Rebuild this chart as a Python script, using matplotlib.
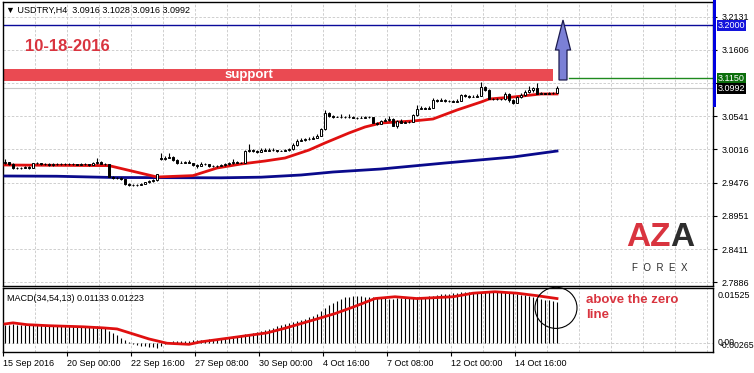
import numpy as np
import matplotlib
matplotlib.use("Agg")
import matplotlib.pyplot as plt
import matplotlib.transforms as mtransforms
from matplotlib.patches import Rectangle, Ellipse, Polygon

plt.rcParams['font.family'] = ['Liberation Sans', 'DejaVu Sans']

# ---- H4 candles, USDTRY 15 Sep - 18 Oct 2016 ----
opens = [2.9790, 2.9805, 2.9780, 2.9715, 2.9705, 2.9720, 2.9725, 2.9715, 2.9785, 2.9790,
         2.9775, 2.9780, 2.9765, 2.9770, 2.9780, 2.9775, 2.9770, 2.9775, 2.9770, 2.9765,
         2.9775, 2.9770, 2.9760, 2.9790, 2.9810, 2.9780, 2.9775, 2.9570, 2.9550, 2.9555,
         2.9530, 2.9450, 2.9440, 2.9445, 2.9440, 2.9460, 2.9480, 2.9500, 2.9520, 2.9880,
         2.9860, 2.9880, 2.9895, 2.9840, 2.9790, 2.9800, 2.9805, 2.9790, 2.9760, 2.9745,
         2.9780, 2.9770, 2.9745, 2.9740, 2.9745, 2.9755, 2.9770, 2.9790, 2.9815, 2.9800,
         2.9795, 2.9985, 2.9995, 2.9985, 2.9975, 3.0000, 2.9990, 3.0005, 2.9995, 2.9985,
         2.9990, 2.9995, 3.0010, 3.0080, 3.0150, 3.0160, 3.0170, 3.0180, 3.0200, 3.0230,
         3.0330, 3.0600, 3.0545, 3.0530, 3.0535, 3.0530, 3.0525, 3.0530, 3.0520, 3.0510,
         3.0520, 3.0535, 3.0525, 3.0440, 3.0420, 3.0470, 3.0480, 3.0500, 3.0390, 3.0470,
         3.0440, 3.0445, 3.0450, 3.0560, 3.0660, 3.0670, 3.0665, 3.0680, 3.0800, 3.0790,
         3.0795, 3.0785, 3.0790, 3.0775, 3.0790, 3.0880, 3.0860, 3.0850, 3.0855, 3.0870,
         3.1010, 3.0960, 3.0820, 3.0810, 3.0815, 3.0810, 3.0900, 3.0800, 3.0760, 3.0850,
         3.0880, 3.0930, 3.0960, 3.1000, 3.0905, 3.0910, 3.0905, 3.0910, 3.0916]
closes = [2.9805, 2.9780, 2.9715, 2.9705, 2.9720, 2.9725, 2.9715, 2.9785, 2.9790, 2.9775,
          2.9780, 2.9765, 2.9770, 2.9780, 2.9775, 2.9770, 2.9775, 2.9770, 2.9765, 2.9775,
          2.9770, 2.9760, 2.9790, 2.9810, 2.9780, 2.9775, 2.9570, 2.9550, 2.9555, 2.9530,
          2.9450, 2.9440, 2.9445, 2.9440, 2.9460, 2.9480, 2.9500, 2.9520, 2.9610, 2.9860,
          2.9880, 2.9895, 2.9840, 2.9790, 2.9800, 2.9805, 2.9790, 2.9760, 2.9745, 2.9780,
          2.9770, 2.9745, 2.9740, 2.9745, 2.9755, 2.9770, 2.9790, 2.9815, 2.9800, 2.9795,
          2.9985, 2.9995, 2.9985, 2.9975, 3.0000, 2.9990, 3.0005, 2.9995, 2.9985, 2.9990,
          2.9995, 3.0010, 3.0080, 3.0150, 3.0160, 3.0170, 3.0180, 3.0200, 3.0230, 3.0330,
          3.0600, 3.0545, 3.0530, 3.0535, 3.0530, 3.0525, 3.0530, 3.0520, 3.0510, 3.0520,
          3.0535, 3.0525, 3.0440, 3.0420, 3.0470, 3.0480, 3.0500, 3.0390, 3.0470, 3.0440,
          3.0445, 3.0450, 3.0560, 3.0660, 3.0670, 3.0665, 3.0680, 3.0800, 3.0790, 3.0795,
          3.0785, 3.0790, 3.0775, 3.0790, 3.0880, 3.0860, 3.0850, 3.0855, 3.0870, 3.1010,
          3.0960, 3.0820, 3.0810, 3.0815, 3.0810, 3.0900, 3.0800, 3.0760, 3.0850, 3.0880,
          3.0930, 3.0960, 3.1000, 3.0905, 3.0910, 3.0905, 3.0910, 3.0916, 3.0992]
highs = [2.9850, 2.9815, 2.9790, 2.9735, 2.9730, 2.9745, 2.9740, 2.9800, 2.9815, 2.9800,
         2.9795, 2.9790, 2.9785, 2.9795, 2.9790, 2.9785, 2.9790, 2.9785, 2.9780, 2.9790,
         2.9790, 2.9780, 2.9810, 2.9880, 2.9820, 2.9795, 2.9780, 2.9580, 2.9570, 2.9565,
         2.9540, 2.9465, 2.9460, 2.9455, 2.9470, 2.9490, 2.9515, 2.9535, 2.9620, 2.9950,
         2.9900, 2.9960, 2.9905, 2.9850, 2.9830, 2.9830, 2.9840, 2.9800, 2.9775, 2.9810,
         2.9800, 2.9780, 2.9755, 2.9755, 2.9770, 2.9790, 2.9810, 2.9860, 2.9825, 2.9810,
         2.9995, 3.0090, 3.0010, 3.0005, 3.0040, 3.0030, 3.0030, 3.0025, 3.0005, 3.0000,
         3.0010, 3.0040, 3.0110, 3.0170, 3.0200, 3.0190, 3.0210, 3.0230, 3.0260, 3.0350,
         3.0640, 3.0610, 3.0560, 3.0550, 3.0570, 3.0550, 3.0575, 3.0545, 3.0530, 3.0540,
         3.0550, 3.0545, 3.0535, 3.0450, 3.0480, 3.0520, 3.0540, 3.0510, 3.0480, 3.0490,
         3.0460, 3.0465, 3.0570, 3.0720, 3.0700, 3.0690, 3.0700, 3.0830, 3.0820, 3.0830,
         3.0810, 3.0805, 3.0800, 3.0815, 3.0900, 3.0905, 3.0880, 3.0880, 3.0900, 3.1095,
         3.1030, 3.0970, 3.0830, 3.0830, 3.0825, 3.0930, 3.0910, 3.0810, 3.0870, 3.0910,
         3.0960, 3.1020, 3.1010, 3.1080, 3.0925, 3.0920, 3.0925, 3.0930, 3.1028]
lows = [2.9775, 2.9760, 2.9700, 2.9690, 2.9695, 2.9710, 2.9700, 2.9710, 2.9770, 2.9765,
        2.9760, 2.9750, 2.9750, 2.9760, 2.9765, 2.9760, 2.9760, 2.9760, 2.9755, 2.9755,
        2.9760, 2.9740, 2.9755, 2.9780, 2.9770, 2.9755, 2.9560, 2.9540, 2.9535, 2.9520,
        2.9440, 2.9420, 2.9425, 2.9430, 2.9435, 2.9450, 2.9470, 2.9490, 2.9510, 2.9845,
        2.9845, 2.9870, 2.9830, 2.9780, 2.9785, 2.9790, 2.9785, 2.9750, 2.9720, 2.9740,
        2.9755, 2.9735, 2.9730, 2.9735, 2.9740, 2.9750, 2.9760, 2.9780, 2.9790, 2.9785,
        2.9790, 2.9975, 2.9970, 2.9960, 2.9965, 2.9980, 2.9985, 2.9980, 2.9975, 2.9980,
        2.9980, 2.9990, 3.0000, 3.0070, 3.0140, 3.0150, 3.0165, 3.0175, 3.0195, 3.0220,
        3.0320, 3.0535, 3.0520, 3.0525, 3.0520, 3.0515, 3.0520, 3.0510, 3.0500, 3.0505,
        3.0510, 3.0505, 3.0430, 3.0395, 3.0410, 3.0465, 3.0470, 3.0380, 3.0360, 3.0430,
        3.0430, 3.0435, 3.0445, 3.0550, 3.0650, 3.0650, 3.0655, 3.0670, 3.0775, 3.0780,
        3.0770, 3.0775, 3.0765, 3.0770, 3.0785, 3.0850, 3.0835, 3.0845, 3.0845, 3.0860,
        3.0950, 3.0810, 3.0795, 3.0800, 3.0795, 3.0800, 3.0770, 3.0740, 3.0750, 3.0840,
        3.0870, 3.0920, 3.0930, 3.0890, 3.0895, 3.0895, 3.0890, 3.0895, 3.0916]

# moving averages (read at bar indices)
ma_red_idx = [0, 26, 38, 47, 53, 59, 65, 70, 76, 80, 86, 90, 94, 102, 107, 113, 119, 121, 127, 134, 138]
ma_red = [2.9760, 2.9750, 2.9568, 2.9590, 2.9712, 2.9776, 2.9824, 2.9872, 3.0000, 3.0113, 3.0273,
          3.0369, 3.0433, 3.0465, 3.0497, 3.0641, 3.0769, 3.0817, 3.0849, 3.0898, 3.0898]
ma_blue_idx = [0, 13, 27, 54, 64, 74, 82, 94, 110, 127, 138]
ma_blue = [2.9584, 2.9580, 2.9560, 2.9555, 2.9565, 2.9600, 2.9648, 2.9696, 2.9792, 2.9888, 2.9984]

# MACD histogram per bar
macd_hist = [0.0050, 0.0050, 0.0051, 0.0050, 0.0049, 0.0048, 0.0048, 0.0048, 0.0049, 0.0048,
             0.0048, 0.0047, 0.0047, 0.0047, 0.0046, 0.0046, 0.0046, 0.0046, 0.0045, 0.0045,
             0.0045, 0.0045, 0.0044, 0.0045, 0.0044, 0.0040, 0.0033, 0.0027, 0.0020, 0.0013,
             0.0007, 0.0002, -0.0004, -0.0007, -0.0009, -0.0010, -0.0012, -0.0013, -0.0014, -0.0010,
             -0.0004, 0.0001, 0.0003, 0.0004, 0.0004, 0.0005, 0.0005, 0.0006, 0.0006, 0.0008,
             0.0008, 0.0009, 0.0010, 0.0011, 0.0012, 0.0013, 0.0015, 0.0017, 0.0019, 0.0021,
             0.0023, 0.0025, 0.0027, 0.0029, 0.0031, 0.0034, 0.0037, 0.0041, 0.0045, 0.0049,
             0.0053, 0.0055, 0.0058, 0.0061, 0.0064, 0.0067, 0.0071, 0.0075, 0.0080, 0.0088,
             0.0096, 0.0104, 0.0111, 0.0117, 0.0122, 0.0126, 0.0128, 0.0130, 0.0130, 0.0129,
             0.0128, 0.0127, 0.0126, 0.0125, 0.0124, 0.0124, 0.0123, 0.0123, 0.0124, 0.0124,
             0.0124, 0.0124, 0.0125, 0.0126, 0.0127, 0.0128, 0.0129, 0.0131, 0.0133, 0.0135,
             0.0136, 0.0137, 0.0138, 0.0139, 0.0140, 0.0140, 0.0141, 0.0141, 0.0142, 0.0142,
             0.0142, 0.0142, 0.0142, 0.0141, 0.0141, 0.0140, 0.0139, 0.0138, 0.0136, 0.0134,
             0.0132, 0.0130, 0.0128, 0.0125, 0.0122, 0.0120, 0.0118, 0.0115, 0.0113]
signal_idx = [0, 2, 5.5, 11, 19.5, 24.5, 28, 32, 36, 40.5, 46, 49, 57, 65.5, 70, 78, 82.5, 87,
              92.5, 97.5, 103, 112, 117, 122.5, 128, 133, 138]
signal = [0.0052, 0.0055, 0.0050, 0.0047, 0.0044, 0.0041, 0.0038, 0.0024, 0.0010, -0.0002,
          -0.0005, 0.0002, 0.0014, 0.0027, 0.0040, 0.0066, 0.0081, 0.0099, 0.0123, 0.0128,
          0.0123, 0.0128, 0.0138, 0.0142, 0.0138, 0.0131, 0.0123]

date_labels = ['15 Sep 2016', '20 Sep 00:00', '22 Sep 16:00', '27 Sep 08:00', '30 Sep 00:00',
               '4 Oct 16:00', '7 Oct 08:00', '12 Oct 00:00', '14 Oct 16:00']
price_ticks = [3.2131, 3.1606, 3.1081, 3.0541, 3.0016, 2.9476, 2.8951, 2.8411, 2.7886]
hidden_tick = 3.1081  # label covered by the price boxes

support_lo, support_hi = 3.1106, 3.1298
resistance = 3.2000
level_green = 3.1150
last_price = 3.0992

W, H = 754, 373
def frame(x0, y0, x1, y1):
    return [x0 / W, 1 - y1 / H, (x1 - x0) / W, (y1 - y0) / H]

fig = plt.figure(figsize=(7.54, 3.73), dpi=100)
ax = fig.add_axes(frame(3, 2, 713, 286))
ax2 = fig.add_axes(frame(3, 288, 713, 352), sharex=ax)

idx = np.arange(len(closes))
o = np.array(opens); c = np.array(closes)
up = c >= o
grid_kw = dict(color='#c8c8c8', lw=0.6, ls=(0, (3, 2)))

# main pane
ax.set_xlim(-0.5, 177)
ax.set_ylim(2.7822, 3.2371)
for p in price_ticks:
    ax.axhline(p, zorder=0, **grid_kw)
for g in np.arange(7.5, 177, 8):
    ax.axvline(g, zorder=0, **grid_kw)
    ax2.axvline(g, zorder=0, **grid_kw)

ax.add_patch(Rectangle((-0.5, support_lo), 137.5, support_hi - support_lo,
                       facecolor='#ea4a52', edgecolor='none', zorder=2))
ax.text(61, (support_lo + support_hi) / 2, 'support', color='white', fontsize=9.5,
        fontweight='bold', ha='center', va='center', zorder=3)
ax.axhline(resistance, color='#0a0a9a', lw=1, zorder=2)
ax.plot([141, 177], [level_green, level_green], color='#1f8a1f', lw=1, zorder=2)
ax.axhline(last_price, color='#c8c8c8', lw=0.8, zorder=1)

ax.plot(ma_blue_idx, ma_blue, color='#0a0a8c', lw=2, zorder=3)
ax.plot(ma_red_idx, ma_red, color='#e01010', lw=2, zorder=3)

ax.vlines(idx, lows, highs, color='black', lw=0.8, zorder=4)
ax.bar(idx[up], (c - o)[up], bottom=o[up], width=0.7, facecolor='white',
       edgecolor='black', lw=0.7, zorder=5)
ax.bar(idx[~up], (c - o)[~up], bottom=o[~up], width=0.7, facecolor='black',
       edgecolor='black', lw=0.7, zorder=5)

# arrow up
ax.add_patch(Polygon([(138.5, support_lo + 0.0016), (138.5, 3.1602), (137.6, 3.1602),
                      (139.5, 3.2083), (141.4, 3.1602), (140.5, 3.1602),
                      (140.5, support_lo + 0.0016)],
                     closed=True, facecolor='#7b80d6', edgecolor='#1c1c50', lw=0.9, zorder=6))

ax.text(5, 3.1660, '10-18-2016', color='#d9343f', fontsize=12, fontweight='bold',
        ha='left', va='center')
ax.text(0.004, 0.972, '▼ USDTRY,H4  3.0916 3.1028 3.0916 3.0992', transform=ax.transAxes,
        fontsize=6.5, ha='left', va='center')

# logo
ax.text(166.3, 2.860, 'AZ', color='#d9343f', fontsize=24, fontweight='bold', ha='right', va='center')
ax.text(166.3, 2.860, 'A', color='#2d2d2d', fontsize=24, fontweight='bold', ha='left', va='center')
ax.text(163.6, 2.8105, 'F  O  R  E  X', color='#2d2d2d', fontsize=7, ha='center', va='center')

ax.yaxis.tick_right()
ax.set_yticks(price_ticks)
ax.set_yticklabels(['' if p == hidden_tick else f'{p:.4f}' for p in price_ticks])
ax.tick_params(axis='y', length=3, width=0.8, labelsize=6.5, pad=3)
ax.tick_params(axis='x', bottom=False, labelbottom=False)

tr = mtransforms.blended_transform_factory(ax.transAxes, ax.transData)
for val, col in [(resistance, '#1414dc'), (level_green, '#0b6e0b'), (last_price, 'black')]:
    ax.text(1.0065, val, f'{val:.4f}', transform=tr, color='white', fontsize=6.5,
            ha='left', va='center', clip_on=False, zorder=10,
            bbox=dict(boxstyle='square,pad=0.12', facecolor=col, edgecolor='none'))

# MACD pane
ax2.set_ylim(-0.00265, 0.01525)
ax2.axhline(0, zorder=0, **grid_kw)
ax2.vlines(idx, 0, macd_hist, color='black', lw=0.8, zorder=2)
ax2.plot(signal_idx, signal, color='#e01010', lw=2, zorder=3)
ax2.text(0.006, 0.84, 'MACD(34,54,13) 0.01133 0.01223', transform=ax2.transAxes,
         fontsize=6.5, ha='left', va='center')
ax2.text(145.3, 0.0119, 'above the zero', color='#d9343f', fontsize=9.5, fontweight='bold',
         ha='left', va='center')
ax2.text(145.3, 0.0077, 'line', color='#d9343f', fontsize=9.5, fontweight='bold',
         ha='left', va='center')
ax2.add_patch(Ellipse((137.75, 0.0097), 10.5, 0.0115, facecolor='none', edgecolor='black',
                      lw=0.8, zorder=6, clip_on=False))

tr2 = mtransforms.blended_transform_factory(ax2.transAxes, ax2.transData)
ax2.text(1.007, 0.0132, '0.01525', transform=tr2, fontsize=6.5, ha='left', va='center', clip_on=False)
ax2.text(1.007, -0.0001, '0.00', transform=tr2, fontsize=6.3, ha='left', va='center', clip_on=False)
ax2.text(1.010, -0.0007, '-0.00265', transform=tr2, fontsize=6.3, ha='left', va='center', clip_on=False)
ax2.set_yticks([])
ax2.set_xticks([16 * k - 0.5 for k in range(len(date_labels))])
ax2.set_xticklabels(date_labels, ha='left')
ax2.tick_params(axis='x', length=3, width=0.8, labelsize=6.5, pad=2)

for a in (ax, ax2):
    for s in a.spines.values():
        s.set_linewidth(1)
        s.set_color('black')

# blue scale marker
fig.patches.append(Rectangle((713 / W, 1 - 107 / H), 3 / W, 107 / H, transform=fig.transFigure,
                             facecolor='#0000e0', edgecolor='none', figure=fig))

fig.savefig('out.png', dpi=100)
